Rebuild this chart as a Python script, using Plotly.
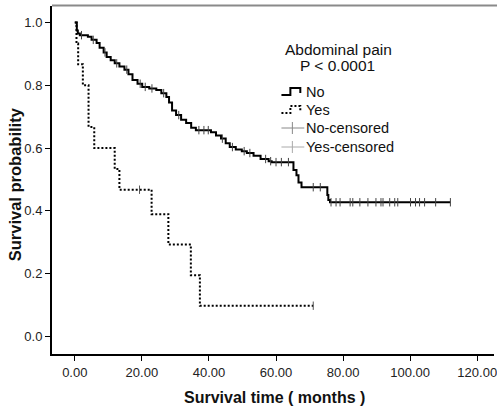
import numpy as np
import plotly.graph_objects as go

# ---- data ----
no_time = [0, 0.6, 0.9, 1.5, 3.9, 5.0, 6.5, 7.4, 8.6, 9.5, 10.7, 11.9, 13.3, 14.8, 16.0,
           17.2, 18.7, 20.1, 22.2, 24.3, 25.8, 27.3, 28.1, 29.0, 30.2, 31.7, 33.2, 34.7,
           36.1, 40.6, 42.1, 43.6, 45.0, 46.2, 48.0, 49.8, 51.3, 53.3, 55.4, 57.8, 58.7,
           65.2, 66.1, 66.7, 67.6, 75.3, 75.6, 76.1, 112.0]
no_surv = [1.0, 0.975, 0.965, 0.96, 0.955, 0.945, 0.935, 0.92, 0.905, 0.89, 0.88, 0.87,
           0.86, 0.85, 0.835, 0.817, 0.805, 0.795, 0.79, 0.785, 0.775, 0.763, 0.745, 0.72,
           0.705, 0.69, 0.68, 0.665, 0.657, 0.65, 0.64, 0.63, 0.615, 0.603, 0.595, 0.59,
           0.584, 0.575, 0.565, 0.558, 0.555, 0.53, 0.513, 0.49, 0.475, 0.45, 0.434, 0.427,
           0.427]
no_cens = [2.0, 5.5, 9.0, 12.5, 15.5, 19.5, 21.0, 23.0, 26.5, 31.0, 37.0, 38.5, 39.8,
           44.0, 47.0, 50.5, 52.2, 56.9, 58.4, 60.0, 61.6, 63.7, 71.1, 73.2,
           76.4, 77.9, 79.1, 82.1, 82.9, 85.0, 87.4, 89.8, 91.3, 91.9, 93.9, 95.4, 96.3,
           100.1, 101.6, 102.8, 104.3, 107.6, 112.0]

yes_time = [0, 0.5, 1.0, 2.4, 4.1, 5.8, 11.9, 13.3, 22.9, 27.9, 34.6, 37.3, 71.1]
yes_surv = [1.0, 0.933, 0.867, 0.8, 0.667, 0.6, 0.533, 0.467, 0.389, 0.292, 0.194, 0.097, 0.097]
yes_cens = [19.3, 71.1]

x_ticks = [0, 20, 40, 60, 80, 100, 120]
x_tick_labels = ["0.00", "20.00", "40.00", "60.00", "80.00", "100.00", "120.00"]
y_ticks = [0.0, 0.2, 0.4, 0.6, 0.8, 1.0]
y_tick_labels = ["0.0", "0.2", "0.4", "0.6", "0.8", "1.0"]


def step_value(times, surv, t):
    idx = np.searchsorted(np.array(times), t, side="right") - 1
    return [surv[i] for i in idx]


FONT = "Arial, Liberation Sans, sans-serif"
W, H = 497, 407
L, R, T, B = 52, 0, 6, 53


def px(x):
    return (x - L) / (W - L - R)


def py(y):
    return (H - B - y) / (H - T - B)


fig = go.Figure()
fig.add_trace(go.Scatter(x=no_time, y=no_surv, mode="lines", line_shape="hv",
                         line=dict(color="black", width=2), showlegend=False))
fig.add_trace(go.Scatter(x=yes_time, y=yes_surv, mode="lines", line_shape="hv",
                         line=dict(color="black", width=2, dash="2px,2px"), showlegend=False))
fig.add_trace(go.Scatter(x=no_cens, y=step_value(no_time, no_surv, no_cens), mode="markers",
                         marker=dict(symbol="line-ns", size=6, line=dict(color="#444", width=1)),
                         showlegend=False))
fig.add_trace(go.Scatter(x=yes_cens, y=step_value(yes_time, yes_surv, yes_cens), mode="markers",
                         marker=dict(symbol="line-ns", size=6, line=dict(color="#555", width=1)),
                         showlegend=False))

shapes = []
# top frame line
shapes.append(dict(type="line", xref="paper", yref="paper", x0=0, x1=1.01, y0=py(5.5), y1=py(5.5),
                   line=dict(color="#8a8a8a", width=2)))


def step_icon(y, dash):
    p = (f"M{px(283)},{py(y)} L{px(292)},{py(y)} L{px(292)},{py(y-7)} "
         f"L{px(302)},{py(y-7)} L{px(302)},{py(y-2)}")
    return dict(type="path", xref="paper", yref="paper", path=p,
                line=dict(color="black", width=2, dash=dash))


shapes.append(step_icon(95, "solid"))
shapes.append(step_icon(113, "2px,2px"))
for yy, col in [(128, "#888"), (147, "#aaa")]:
    shapes.append(dict(type="line", xref="paper", yref="paper", x0=px(283), x1=px(306),
                       y0=py(yy), y1=py(yy), line=dict(color=col, width=1)))
    shapes.append(dict(type="line", xref="paper", yref="paper", x0=px(294), x1=px(294),
                       y0=py(yy - 6), y1=py(yy + 6), line=dict(color=col, width=1)))


def ann(text, x, y, size, xanchor="center", angle=0):
    return dict(text=text, x=px(x), y=py(y), xref="paper", yref="paper",
                xanchor=xanchor, yanchor="middle", showarrow=False, textangle=angle,
                font=dict(family=FONT, size=size, color="#111"))


annotations = [
    ann("Abdominal pain", 340, 50, 15.5),
    ann("P < 0.0001", 339, 65, 15.5),
]
for yy, txt in [(92, "No"), (110, "Yes"), (128, "No-censored"), (147, "Yes-censored")]:
    annotations.append(ann(txt, 306, yy, 14.5, xanchor="left"))
annotations.append(ann("<b>Survival time ( months )</b>", 276, 397, 16))
annotations.append(ann("<b>Survival probability</b>", 15, 184, 16.5, angle=-90))

fig.update_layout(
    width=W, height=H, margin=dict(l=L, r=R, t=T, b=B),
    paper_bgcolor="white", plot_bgcolor="white",
    shapes=shapes, annotations=annotations, showlegend=False,
    xaxis=dict(range=[-6.8, 125.0], tickvals=x_ticks, ticktext=x_tick_labels,
               showgrid=False, zeroline=False, showline=True, linecolor="black", linewidth=2,
               ticks="outside", ticklen=5, tickwidth=1, tickcolor="black",
               ticklabeloverflow="allow",
               tickfont=dict(family=FONT, size=13, color="#222")),
    yaxis=dict(range=[-0.057, 1.053], tickvals=y_ticks, ticktext=y_tick_labels,
               showgrid=False, zeroline=False, showline=True, linecolor="black", linewidth=2,
               ticks="outside", ticklen=5, tickwidth=1, tickcolor="black",
               tickfont=dict(family=FONT, size=13, color="#222")),
)

fig.write_html("out.html")
